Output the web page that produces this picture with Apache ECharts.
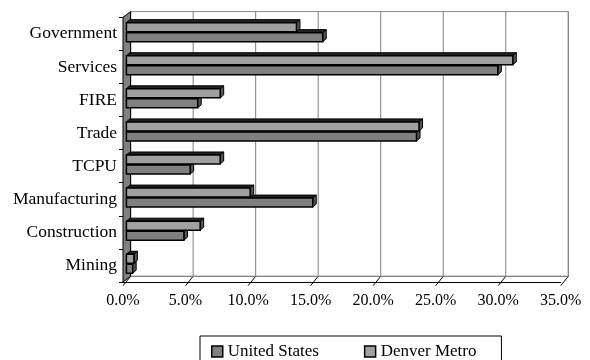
<!DOCTYPE html>
<html>
<head>
<meta charset="utf-8">
<script src="https://cdn.jsdelivr.net/npm/echarts@6/dist/echarts.min.js"></script>
<style>
  html, body { margin: 0; padding: 0; background: #ffffff; }
  #chart { width: 590px; height: 360px; }
</style>
</head>
<body>
<div id="chart"></div>
<script>
// Employment share by industry (percent of total)
const categories = ['Government', 'Services', 'FIRE', 'Trade', 'TCPU', 'Manufacturing', 'Construction', 'Mining'];
const unitedStates = [15.7, 29.7, 5.7, 23.2, 5.1, 14.9, 4.6, 0.5];
const denverMetro = [13.6, 30.9, 7.5, 23.4, 7.5, 9.9, 5.9, 0.6];
const xTicks = [0, 5, 10, 15, 20, 25, 30, 35];

const FONT = 'Liberation Serif, Times New Roman, serif';

// perspective offsets from the front plane to the back wall
const WALL_DX = 7.6, WALL_DY = 5.7;
// bars sit half way into the depth
const BAR_DX = 3.4;
// thickness of each bar's own top/side faces
const FACE_DX = 3.5, FACE_DY = 3;

const chart = echarts.init(document.getElementById('chart'), null, { renderer: 'canvas' });

// back wall, floor, left wall, gridlines and slanted ticks
function renderFrame(params, api) {
  const cs = params.coordSys;
  const left = cs.x, top = cs.y, bottom = cs.y + cs.height;
  const bTop = top - WALL_DY, bBottom = bottom - WALL_DY;
  const bRight = api.coord([xTicks[xTicks.length - 1], 0])[0] + WALL_DX;
  const children = [];
  // back wall
  children.push({
    type: 'rect',
    shape: { x: left + WALL_DX, y: bTop, width: bRight - left - WALL_DX, height: bBottom - bTop },
    style: { fill: '#ffffff', stroke: '#8c8c8c', lineWidth: 1 }
  });
  xTicks.forEach(function (t) {
    const xf = api.coord([t, 0])[0];
    const xb = xf + WALL_DX;
    // gridline on the back wall
    children.push({
      type: 'line',
      shape: { x1: xb, y1: bTop, x2: xb, y2: bBottom },
      style: { stroke: '#808080', lineWidth: 1 }
    });
    // floor line running to the front edge, extended as a tick
    children.push({
      type: 'line',
      shape: { x1: xb, y1: bBottom, x2: xf, y2: bottom + 3.7 },
      style: { stroke: '#000000', lineWidth: 1 }
    });
  });
  // back edge of the floor
  children.push({
    type: 'line',
    shape: { x1: left + WALL_DX, y1: bBottom, x2: bRight, y2: bBottom },
    style: { stroke: '#808080', lineWidth: 1 }
  });
  // left wall
  children.push({
    type: 'polygon',
    shape: { points: [[left, top], [left + WALL_DX, bTop], [left + WALL_DX, bBottom], [left, bottom]] },
    style: { fill: '#808080', stroke: '#000000', lineWidth: 1 }
  });
  return { type: 'group', children: children };
}

// pseudo 3-D bar: front face, top face and right side face
function barRenderer(faceTop, faceH, color) {
  return function (params, api) {
    const cat = api.value(1);
    const end = api.coord([api.value(0), cat]);
    const start = api.coord([0, cat]);
    const x0 = start[0] + BAR_DX;
    const x1 = end[0] + BAR_DX;
    const y0 = end[1] + faceTop;
    const y1 = y0 + faceH;
    return {
      type: 'group',
      children: [
        {
          type: 'polygon',
          shape: { points: [[x0, y0], [x1, y0], [x1 + FACE_DX, y0 - FACE_DY], [x0 + FACE_DX, y0 - FACE_DY]] },
          style: { fill: '#222222', stroke: '#000000', lineWidth: 1 }
        },
        {
          type: 'polygon',
          shape: { points: [[x1, y0], [x1 + FACE_DX, y0 - FACE_DY], [x1 + FACE_DX, y1 - FACE_DY], [x1, y1]] },
          style: { fill: '#555555', stroke: '#000000', lineWidth: 1 }
        },
        {
          type: 'rect',
          shape: { x: x0, y: y0, width: Math.max(x1 - x0, 0), height: faceH },
          style: { fill: color, stroke: '#000000', lineWidth: 1.5 }
        }
      ]
    };
  };
}

const US_COLOR = '#808080';
const DENVER_COLOR = '#a0a0a0';

const option = {
  backgroundColor: '#ffffff',
  animation: false,
  textStyle: { fontFamily: FONT },
  grid: { left: 123, right: 29.3, top: 17.3, bottom: 78, containLabel: false },
  xAxis: {
    type: 'value',
    min: xTicks[0],
    max: xTicks[xTicks.length - 1],
    interval: 5,
    axisLine: { show: true, lineStyle: { color: '#000000', width: 1 } },
    axisTick: { show: false },
    splitLine: { show: false },
    axisLabel: {
      margin: 11,
      color: '#000000',
      fontFamily: FONT,
      fontSize: 16,
      formatter: function (v) { return v.toFixed(1) + '%'; }
    }
  },
  yAxis: {
    type: 'category',
    inverse: true,
    data: categories,
    axisLine: { show: true, lineStyle: { color: '#000000', width: 1 } },
    axisTick: { show: true, length: 4, lineStyle: { color: '#000000' } },
    splitLine: { show: false },
    axisLabel: { margin: 6, color: '#000000', fontFamily: FONT, fontSize: 17.5 }
  },
  legend: {
    data: ['United States', 'Denver Metro'],
    left: 200,
    top: 336,
    padding: [7, 25, 8, 11],
    itemGap: 45,
    itemWidth: 11,
    itemHeight: 11,
    icon: 'rect',
    borderColor: '#000000',
    borderWidth: 1,
    itemStyle: { borderColor: '#000000', borderWidth: 1.5 },
    textStyle: { color: '#000000', fontFamily: FONT, fontSize: 17 }
  },
  series: [
    {
      name: 'frame',
      type: 'custom',
      z: 1,
      silent: true,
      renderItem: renderFrame,
      data: [[0, 0]],
      encode: { x: 0, y: 1 }
    },
    {
      name: 'United States',
      type: 'custom',
      z: 3,
      itemStyle: { color: US_COLOR },
      renderItem: barRenderer(-1.2, 9, US_COLOR),
      data: unitedStates.map(function (v, i) { return [v, i]; }),
      encode: { x: 0, y: 1 }
    },
    {
      name: 'Denver Metro',
      type: 'custom',
      z: 4,
      itemStyle: { color: DENVER_COLOR },
      renderItem: barRenderer(-11.2, 9, DENVER_COLOR),
      data: denverMetro.map(function (v, i) { return [v, i]; }),
      encode: { x: 0, y: 1 }
    }
  ]
};

chart.setOption(option);
</script>
</body>
</html>
